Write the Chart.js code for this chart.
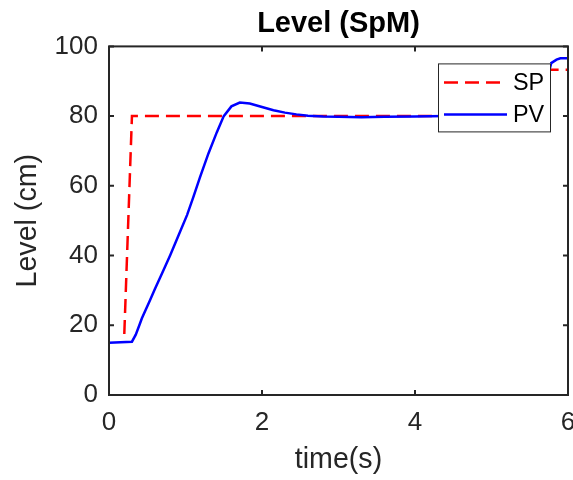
<!DOCTYPE html>
<html>
<head>
<meta charset="utf-8">
<script src="https://cdn.jsdelivr.net/npm/chart.js@4.4.1/dist/chart.umd.min.js"></script>
<style>
  html, body { margin: 0; padding: 0; background: #fff; }
  #c { display: block; }
</style>
</head>
<body>
<canvas id="c" width="573" height="480"></canvas>
<script>
/* ===========================
   Data
   =========================== */

const xTicks = [0, 2, 4, 6];
const yTicks = [0, 20, 40, 60, 80, 100];

// set point (SP)
const spTime  = [0.2, 0.3, 5.55, 5.62, 6.0];
const spLevel = [17.5, 80, 80, 93.3, 93.3];

// process value (PV)
const pvTime  = [0, 0.3, 0.35, 0.405, 0.43, 0.536, 0.6, 0.7, 0.8, 0.9, 1.02, 1.1, 1.19, 1.3, 1.41, 1.5,
                 1.6, 1.71, 1.84, 2.0, 2.15, 2.3, 2.45, 2.6, 2.8, 3.0, 3.3, 3.6, 4.0, 4.4, 5.0, 5.5,
                 5.62, 5.7, 5.78, 5.85, 5.9, 6.0];
const pvLevel = [15, 15.3, 17.3, 20.5, 22, 27.2, 30.4, 35.2, 40.1, 45.3, 51.6, 56.6, 62.5, 69.3, 75.4, 80,
                 82.8, 83.9, 83.6, 82.6, 81.7, 81, 80.5, 80.1, 79.9, 79.8, 79.7, 79.8, 79.9, 80, 80, 80.1,
                 82, 88, 95.2, 96.2, 96.6, 96.6];

const FONT = "'Liberation Sans', Arial, Helvetica, sans-serif";
const AXIS = "#262626";

/* ===========================
   Frame, inward ticks, legend
   =========================== */

const matlabBox = {
  id: "matlabBox",
  afterLayout(chart) {
    // centre the title over the axes, not the whole canvas
    if (chart.titleBlock) {
      chart.titleBlock.left = chart.chartArea.left;
      chart.titleBlock.right = chart.chartArea.right;
    }
  },
  afterDatasetsDraw(chart) {
    const { ctx, chartArea: a, scales: { x, y } } = chart;
    ctx.save();
    ctx.strokeStyle = AXIS;
    ctx.lineWidth = 2;
    ctx.strokeRect(a.left, a.top, a.right - a.left, a.bottom - a.top);

    const tick = 5;
    ctx.beginPath();
    xTicks.forEach(v => {
      const px = x.getPixelForValue(v);
      ctx.moveTo(px, a.bottom); ctx.lineTo(px, a.bottom - tick);
      ctx.moveTo(px, a.top); ctx.lineTo(px, a.top + tick);
    });
    yTicks.forEach(v => {
      const py = y.getPixelForValue(v);
      ctx.moveTo(a.left, py); ctx.lineTo(a.left + tick, py);
      ctx.moveTo(a.right, py); ctx.lineTo(a.right - tick, py);
    });
    ctx.stroke();

    // legend box, top right inside the axes
    const w = 113, h = 69;
    const lx = a.right - 17 - w;
    const ly = a.top + 17;
    ctx.fillStyle = "#fff";
    ctx.fillRect(lx, ly, w, h);
    ctx.lineWidth = 1;
    ctx.strokeRect(lx + 0.5, ly + 0.5, w - 1, h - 1);

    ctx.font = "23.4px " + FONT;
    ctx.textBaseline = "middle";
    chart.data.datasets.forEach((ds, i) => {
      const yy = ly + 19 + i * 32;
      ctx.strokeStyle = ds.borderColor;
      ctx.lineWidth = ds.borderWidth;
      ctx.setLineDash(ds.borderDash || []);
      ctx.beginPath();
      ctx.moveTo(lx + 6, yy);
      ctx.lineTo(lx + 69, yy);
      ctx.stroke();
      ctx.setLineDash([]);
      ctx.fillStyle = "#000";
      ctx.fillText(ds.label, lx + 75, yy + 1);
    });
    ctx.restore();
  }
};

/* ===========================
   Chart
   =========================== */

new Chart(document.getElementById("c"), {
  type: "line",
  data: {
    datasets: [
      {
        label: "SP",
        data: spTime.map((t, i) => ({ x: t, y: spLevel[i] })),
        borderColor: "#ff0000",
        borderWidth: 2.5,
        borderDash: [14, 7],
        pointRadius: 0,
        tension: 0,
        order: 1
      },
      {
        label: "PV",
        data: pvTime.map((t, i) => ({ x: t, y: pvLevel[i] })),
        borderColor: "#0000ff",
        borderWidth: 2.5,
        pointRadius: 0,
        tension: 0,
        order: 0
      }
    ]
  },
  options: {
    responsive: false,
    animation: false,
    layout: { padding: { left: 0, right: 5, top: 0, bottom: 0 } },
    plugins: {
      legend: { display: false },
      tooltip: { enabled: false },
      title: {
        display: true,
        text: "Level (SpM)",
        color: "#000",
        font: { family: FONT, size: 29, weight: "bold", lineHeight: 1.2 },
        padding: { top: 7, bottom: 4.6 }
      }
    },
    scales: {
      x: {
        type: "linear",
        min: 0,
        max: 6,
        ticks: { stepSize: 2, color: AXIS, font: { family: FONT, size: 26 }, padding: 12, maxRotation: 0 },
        grid: { display: false, drawTicks: false },
        border: { display: false },
        title: {
          display: true,
          text: "time(s)",
          color: AXIS,
          font: { family: FONT, size: 28.6, lineHeight: 1 },
          padding: { top: 0, bottom: 5.7 }
        },
        afterFit(s) { s.height = 85; s.paddingLeft = 0; s.paddingRight = 0; }
      },
      y: {
        min: 0,
        max: 100,
        ticks: { stepSize: 20, color: AXIS, font: { family: FONT, size: 26 }, padding: 11 },
        grid: { display: false, drawTicks: false },
        border: { display: false },
        title: {
          display: true,
          text: "Level (cm)",
          color: AXIS,
          font: { family: FONT, size: 28.6, lineHeight: 1 },
          padding: { top: 14, bottom: 0 }
        },
        afterFit(s) { s.width = 109; s.paddingTop = 0; s.paddingBottom = 0; }
      }
    }
  },
  plugins: [matlabBox]
});
</script>
</body>
</html>
